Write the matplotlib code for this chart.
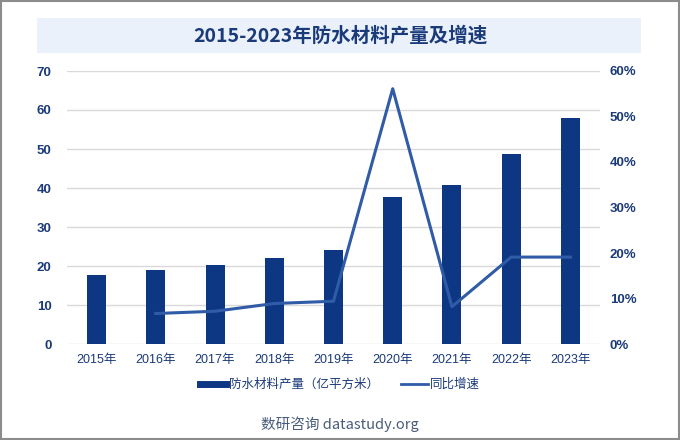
import matplotlib.pyplot as plt
import matplotlib.patches as mpatches
from matplotlib.lines import Line2D
from matplotlib.ticker import FuncFormatter

plt.rcParams['font.family'] = ['Liberation Sans', 'Noto Sans CJK SC', 'DejaVu Sans']

years = ['2015年', '2016年', '2017年', '2018年', '2019年', '2020年', '2021年', '2022年', '2023年']
output = [17.7, 19.0, 20.3, 22.1, 24.1, 37.7, 40.8, 48.7, 57.9]
growth_years = [1, 2, 3, 4, 5, 6, 7, 8]
growth = [6.7, 7.2, 8.9, 9.4, 56.1, 8.2, 19.1, 19.1]

bar_color = '#0E3783'
line_color = '#2F5BA7'
text_color = '#1B3A7A'

fig = plt.figure(figsize=(6.8, 4.4), dpi=100)
fig.patch.set_facecolor('white')

# outer frame
fig.add_artist(mpatches.Rectangle((0.001, 0.002), 0.997, 0.996, transform=fig.transFigure,
                                  fill=False, edgecolor='#8C8C8C', linewidth=1.5))
# title band
fig.add_artist(mpatches.Rectangle((37 / 680, 1 - 53 / 440), 604 / 680, 35 / 440,
                                  transform=fig.transFigure, facecolor='#EAF1FB',
                                  edgecolor='none'))
fig.text(0.5, 1 - 35.5 / 440, '2015-2023年防水材料产量及增速', ha='center', va='center',
         fontsize=14, fontweight='bold', color='#1B3A7A',
         family=['Noto Sans CJK SC'])

ax = fig.add_axes([67 / 680, 1 - 344 / 440, 533 / 680, 273 / 440])
x = range(len(years))
ax.bar(x, output, width=0.32, color=bar_color, zorder=2)
ax.set_xlim(-0.5, 8.5)
ax.set_ylim(0, 70)
ax.set_yticks(range(0, 71, 10))
ax.grid(axis='y', color='#D9D9D9', linewidth=1, zorder=0)
ax.set_xticks(list(x))
ax.set_xticklabels(years)
for s in ax.spines.values():
    s.set_visible(False)
ax.tick_params(length=0, colors=text_color, labelsize=9)
ax.tick_params(axis='x', pad=7)
ax.tick_params(axis='y', labelsize=9.5, pad=11)
for lbl in ax.get_yticklabels():
    lbl.set_fontweight('bold')

ax2 = ax.twinx()
ax2.plot(growth_years, growth, color=line_color, linewidth=2.2, zorder=3)
ax2.set_ylim(0, 60)
ax2.set_yticks(range(0, 61, 10))
ax2.yaxis.set_major_formatter(FuncFormatter(lambda v, p: f'{int(v)}%'))
for s in ax2.spines.values():
    s.set_visible(False)
ax2.tick_params(length=0, colors=text_color, labelsize=9.5, pad=7)
for lbl in ax2.get_yticklabels():
    lbl.set_fontweight('bold')

handles = [Line2D([], [], color=bar_color, linewidth=5),
           Line2D([], [], color=line_color, linewidth=2)]
fig.legend(handles, ['防水材料产量（亿平方米）', '同比增速'], loc='center',
           bbox_to_anchor=(0.5, 1 - 385 / 440), ncol=2, frameon=False,
           fontsize=9, handlelength=2.1, handletextpad=0.2, columnspacing=1.8,
           labelcolor=text_color)

fig.text(0.5, 1 - 424 / 440, '数研咨询 datastudy.org', ha='center', va='center',
         fontsize=10.5, color='#4A5C7C', family=['Noto Sans CJK SC'])

fig.savefig('out.png', dpi=100)
